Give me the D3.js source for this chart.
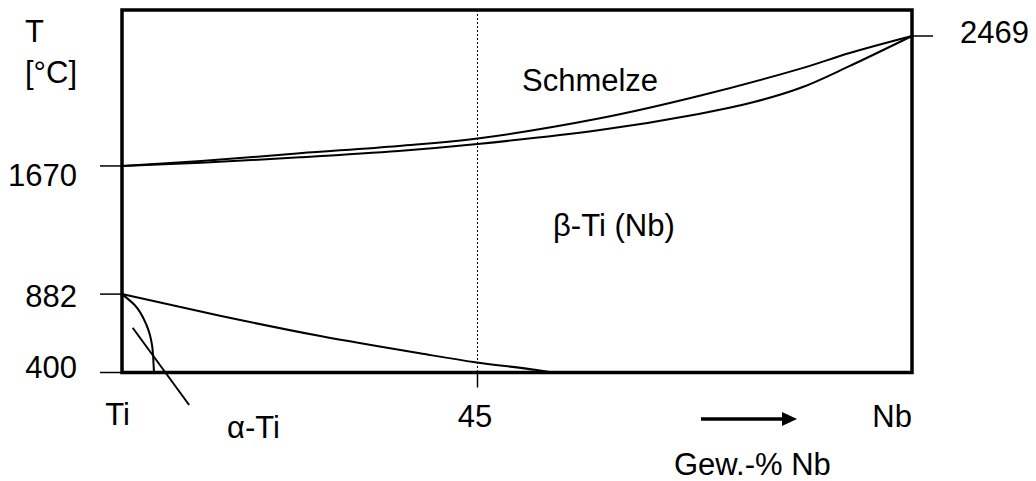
<!DOCTYPE html>
<html>
<head>
<meta charset="utf-8">
<script src="https://cdn.jsdelivr.net/npm/d3@7"></script>
<style>
  html, body { margin: 0; padding: 0; background: #fff; }
  svg text { font-family: "Liberation Sans", Arial, Helvetica, sans-serif; font-size: 31px; fill: #000; }
</style>
</head>
<body>
<svg id="chart" width="1036" height="481"></svg>
<script>
// ---- data (x: Gew.-% Nb, y: T in °C) ----
const liquidusX = [0, 10, 22.5, 35, 45, 60.5, 73, 86, 92, 100];
const liquidusT = [1670, 1700, 1748, 1793, 1839, 1963, 2100, 2270, 2363, 2469];
const solidusX  = [0, 10, 22.5, 35, 45, 60.5, 73, 80, 86, 92, 100];
const solidusT  = [1670, 1690, 1723, 1762, 1805, 1891, 1990, 2063, 2152, 2282, 2469];
const transusX  = [0, 12.4, 25.1, 37.7, 44.7, 52.5, 54.5];
const transusT  = [882, 749, 624, 518, 463, 415, 400];
const alphaX    = [0, 1.6, 3.1, 3.8, 4.0, 4.05];
const alphaT    = [882, 815, 692, 569, 446, 400];
const pointerX  = [1.35, 8.5];
const pointerT  = [675, 200];
const yTicks    = [400, 882, 1670];
const yTickLabels = ["400", "882", "1670"];
const rightTick = [2469];
const rightTickLabels = ["2469"];
const xTicks    = [45];
const xTickLabels = ["45"];
const xEnds     = [0, 100];
const xEndLabels = ["Ti", "Nb"];

// ---- scales ----
const svg = d3.select("#chart");
const x = d3.scaleLinear().domain([0, 100]).range([122, 912]);
const y = d3.scaleLinear().domain([400, 2469]).range([372.5, 36]);
const boxTop = 10;

const line = (xs, ts, curve) => d3.line()
  .x((d, i) => x(xs[i])).y((d, i) => y(ts[i])).curve(curve)(xs);

// dotted line at 45
svg.selectAll(".grid").data(xTicks).join("line")
  .attr("x1", d => x(d)).attr("x2", d => x(d))
  .attr("y1", boxTop).attr("y2", y(400))
  .attr("stroke", "#000").attr("stroke-width", 1).attr("stroke-dasharray", "2,2");

// curves
svg.append("path").attr("d", line(liquidusX, liquidusT, d3.curveCatmullRom.alpha(0.5)))
  .attr("fill", "none").attr("stroke", "#000").attr("stroke-width", 2);
svg.append("path").attr("d", line(solidusX, solidusT, d3.curveCatmullRom.alpha(0.5)))
  .attr("fill", "none").attr("stroke", "#000").attr("stroke-width", 2);
svg.append("path").attr("d", line(transusX, transusT, d3.curveMonotoneX))
  .attr("fill", "none").attr("stroke", "#000").attr("stroke-width", 2);
svg.append("path").attr("d", line(alphaX, alphaT, d3.curveMonotoneY))
  .attr("fill", "none").attr("stroke", "#000").attr("stroke-width", 2);
svg.append("path").attr("d", line(pointerX, pointerT, d3.curveLinear))
  .attr("fill", "none").attr("stroke", "#000").attr("stroke-width", 2);

// box
svg.append("rect")
  .attr("x", x(0)).attr("y", boxTop)
  .attr("width", x(100) - x(0)).attr("height", y(400) - boxTop)
  .attr("fill", "none").attr("stroke", "#000").attr("stroke-width", 3.5);

// left ticks
svg.selectAll(".ytick").data(yTicks).join("line")
  .attr("x1", x(0) - 22).attr("x2", x(0))
  .attr("y1", d => y(d)).attr("y2", d => y(d))
  .attr("stroke", "#000").attr("stroke-width", 1.5);
const yLabelShift = {400: 5.5, 882: 13, 1670: 20};
svg.selectAll(".ylab").data(yTicks).join("text")
  .attr("x", 77).attr("y", d => y(d) + yLabelShift[d])
  .attr("text-anchor", "end")
  .text((d, i) => yTickLabels[i]);

// right tick
svg.selectAll(".rtick").data(rightTick).join("line")
  .attr("x1", x(100)).attr("x2", x(100) + 21)
  .attr("y1", d => y(d)).attr("y2", d => y(d))
  .attr("stroke", "#000").attr("stroke-width", 1.5);
svg.selectAll(".rlab").data(rightTick).join("text")
  .attr("x", 960).attr("y", d => y(d) + 6.7)
  .text((d, i) => rightTickLabels[i]);

// bottom tick at 45
svg.selectAll(".xtick").data(xTicks).join("line")
  .attr("x1", d => x(d)).attr("x2", d => x(d))
  .attr("y1", y(400)).attr("y2", y(400) + 15)
  .attr("stroke", "#000").attr("stroke-width", 1.5);
svg.selectAll(".xlab").data(xTicks).join("text")
  .attr("x", d => x(d) - 2.5).attr("y", 427)
  .attr("text-anchor", "middle")
  .text((d, i) => xTickLabels[i]);
svg.selectAll(".xend").data(xEnds).join("text")
  .attr("x", d => d === 0 ? x(d) - 4.5 : x(d))
  .attr("y", d => d === 0 ? 425 : 427)
  .attr("text-anchor", d => d === 0 ? "middle" : "end")
  .text((d, i) => xEndLabels[i]);

// axis titles
svg.append("text").attr("x", 25).attr("y", 42).text("T");
svg.append("text").attr("x", 25).attr("y", 83).text("[°C]");
svg.append("text").attr("x", 674).attr("y", 475).text("Gew.-% Nb");

// arrow
svg.append("line").attr("x1", 701).attr("x2", 784).attr("y1", 419).attr("y2", 419)
  .attr("stroke", "#000").attr("stroke-width", 3.5);
svg.append("path").attr("d", "M782,412 L797,419 L782,426 Z").attr("fill", "#000");

// region labels
svg.append("text").attr("x", 522).attr("y", 91).text("Schmelze");
svg.append("text").attr("x", 553).attr("y", 236).text("β-Ti (Nb)");
svg.append("text").attr("x", 227).attr("y", 438).text("α-Ti");
</script>
</body>
</html>
